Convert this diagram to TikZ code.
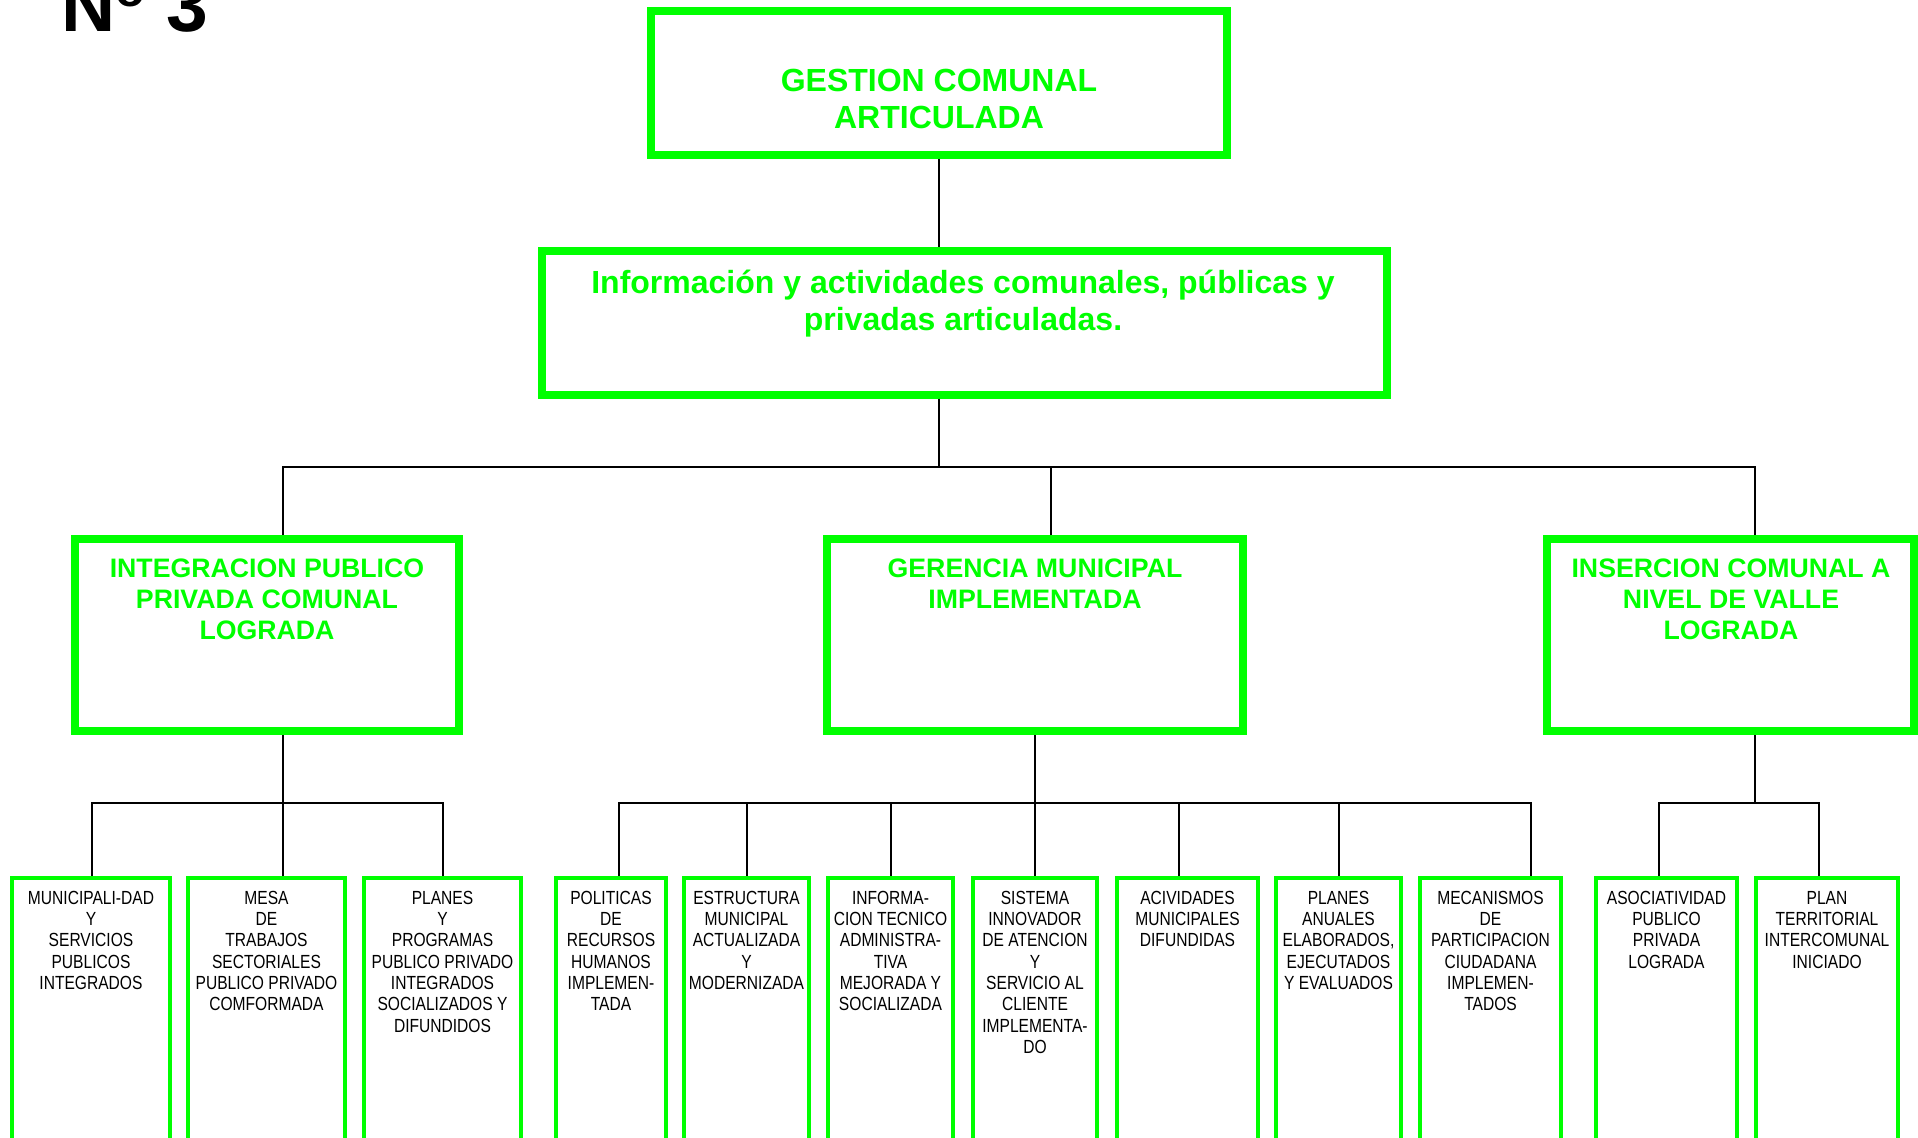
\documentclass[tikz,border=0pt]{standalone}
\usepackage{fontspec}
\setmainfont{Liberation Sans}
\newfontfamily\narrowfont[FakeStretch=0.82]{Liberation Sans}
\definecolor{gr}{HTML}{00FF00}
\newcommand{\tallrule}[1]{\rule{0pt}{#1}}
\begin{document}
\begin{tikzpicture}[x=1pt,y=-1pt,
  bigbox/.style={draw=gr, line width=8pt, rectangle, inner sep=0pt},
  leafbox/.style={draw=gr, line width=4.5pt, rectangle, inner sep=0pt, anchor=north, minimum height=300pt},
  conn/.style={draw=black, line width=2pt},
  toptext/.style={text=gr, font=\bfseries\fontsize{32}{37}\selectfont, align=center, anchor=north, inner sep=0pt},
  midtext/.style={text=gr, font=\bfseries\fontsize{26.7}{31}\selectfont, align=center, anchor=north, inner sep=0pt},
  leaftext/.style={text=black, font=\narrowfont\fontsize{19}{21.3}\selectfont, align=center, anchor=north, inner sep=0pt},
]
\useasboundingbox[fill=white] (0,0) rectangle (1918,1137);

% title
\node[anchor=base west, inner sep=0pt, font=\bfseries\fontsize{75}{75}\selectfont] (title) at (61.5,31.5) {N\raisebox{25pt}{\fontsize{49}{49}\selectfont o} 3};

% big boxes
\node[bigbox, minimum width=576pt, minimum height=144pt] (top) at (939,83) {};
\node[bigbox, minimum width=845pt, minimum height=143.5pt] (sec) at (964.5,322.75) {};
\node[bigbox, minimum width=384pt, minimum height=192pt] (L) at (267,635) {};
\node[bigbox, minimum width=416pt, minimum height=192pt] (M) at (1035,635) {};
\node[bigbox, minimum width=367pt, minimum height=192pt] (R) at (1730.5,635) {};

% texts of big boxes
\node[toptext] (toptxt) at (939,66) {\tallrule{25pt}GESTION COMUNAL\\ARTICULADA};
\node[toptext] (sectxt) at (963,268) {\tallrule{25pt}Información y actividades comunales, públicas y\\privadas articuladas.};
\node[midtext] (Ltxt) at (267,556) {\tallrule{21pt}INTEGRACION PUBLICO\\PRIVADA COMUNAL\\LOGRADA};
\node[midtext] (Mtxt) at (1035,556) {\tallrule{21pt}GERENCIA MUNICIPAL\\IMPLEMENTADA};
\node[midtext] (Rtxt) at (1731,556) {\tallrule{21pt}INSERCION COMUNAL A\\NIVEL DE VALLE\\LOGRADA};

% leaf boxes
\node[leafbox, minimum width=158pt] (b1) at (91,875.5) {};
\node[leafbox, minimum width=157pt] (b2) at (266.5,875.5) {};
\node[leafbox, minimum width=157pt] (b3) at (442.5,875.5) {};
\node[leafbox, minimum width=110pt] (b4) at (611,875.5) {};
\node[leafbox, minimum width=125pt] (b5) at (746.5,875.5) {};
\node[leafbox, minimum width=125pt] (b6) at (890.5,875.5) {};
\node[leafbox, minimum width=124pt] (b7) at (1035,875.5) {};
\node[leafbox, minimum width=141pt] (b8) at (1187.5,875.5) {};
\node[leafbox, minimum width=125pt] (b9) at (1338.5,875.5) {};
\node[leafbox, minimum width=141pt] (b10) at (1490.5,875.5) {};
\node[leafbox, minimum width=141pt] (b11) at (1666.5,875.5) {};
\node[leafbox, minimum width=142pt] (b12) at (1827,875.5) {};

% leaf texts
\node[leaftext] (t1) at (91,889) {\tallrule{15pt}MUNICIPALI-DAD\\Y\\SERVICIOS\\PUBLICOS\\INTEGRADOS};
\node[leaftext] (t2) at (266.5,889) {\tallrule{15pt}MESA\\DE\\TRABAJOS\\SECTORIALES\\PUBLICO PRIVADO\\COMFORMADA};
\node[leaftext] (t3) at (442.5,889) {\tallrule{15pt}PLANES\\Y\\PROGRAMAS\\PUBLICO PRIVADO\\INTEGRADOS\\SOCIALIZADOS Y\\DIFUNDIDOS};
\node[leaftext] (t4) at (611,889) {\tallrule{15pt}POLITICAS\\DE\\RECURSOS\\HUMANOS\\IMPLEMEN-\\TADA};
\node[leaftext] (t5) at (746.5,889) {\tallrule{15pt}ESTRUCTURA\\MUNICIPAL\\ACTUALIZADA\\Y\\MODERNIZADA};
\node[leaftext] (t6) at (890.5,889) {\tallrule{15pt}INFORMA-\\CION TECNICO\\ADMINISTRA-\\TIVA\\MEJORADA Y\\SOCIALIZADA};
\node[leaftext] (t7) at (1035,889) {\tallrule{15pt}SISTEMA\\INNOVADOR\\DE ATENCION\\Y\\SERVICIO AL\\CLIENTE\\IMPLEMENTA-\\DO};
\node[leaftext] (t8) at (1187.5,889) {\tallrule{15pt}ACIVIDADES\\MUNICIPALES\\DIFUNDIDAS};
\node[leaftext] (t9) at (1338.5,889) {\tallrule{15pt}PLANES\\ANUALES\\ELABORADOS,\\EJECUTADOS\\Y EVALUADOS};
\node[leaftext] (t10) at (1490.5,889) {\tallrule{15pt}MECANISMOS\\DE\\PARTICIPACION\\CIUDADANA\\IMPLEMEN-\\TADOS};
\node[leaftext] (t11) at (1666.5,889) {\tallrule{15pt}ASOCIATIVIDAD\\PUBLICO\\PRIVADA\\LOGRADA};
\node[leaftext] (t12) at (1827,889) {\tallrule{15pt}PLAN\\TERRITORIAL\\INTERCOMUNAL\\INICIADO};

% bus coordinates
\coordinate (bus1) at (939,467);
\coordinate (busL) at (283,803);
\coordinate (busM) at (1035,803);
\coordinate (busR) at (1755,803);

% connectors
\draw[conn] (top.south) -- (top.south |- sec.north);
\draw[conn] (sec.south -| top.south) -- (bus1);
\draw[conn] ([xshift=16pt]L.north) |- (bus1);
\draw[conn] ([xshift=16pt]M.north) |- (bus1);
\draw[conn] ([xshift=24.5pt]R.north) |- (bus1);

\draw[conn] ([xshift=16pt]L.south) -- (busL);
\draw[conn] ([xshift=0.5pt]b1.north) |- (busL);
\draw[conn] ([xshift=16.5pt]b2.north) |- (busL);
\draw[conn] ([xshift=0.5pt]b3.north) |- (busL);

\draw[conn] (M.south) -- (busM);
\draw[conn] ([xshift=8pt]b4.north) |- (busM);
\draw[conn] ([xshift=0.5pt]b5.north) |- (busM);
\draw[conn] ([xshift=0.5pt]b6.north) |- (busM);
\draw[conn] (b7.north) -- (busM);
\draw[conn] ([xshift=-8.5pt]b8.north) |- (busM);
\draw[conn] ([xshift=0.5pt]b9.north) |- (busM);
\draw[conn] ([xshift=40.5pt]b10.north) |- (busM);

\draw[conn] ([xshift=24.5pt]R.south) -- (busR);
\draw[conn] ([xshift=-7.5pt]b11.north) |- (busR);
\draw[conn] ([xshift=-8pt]b12.north) |- (busR);
\end{tikzpicture}
\end{document}
